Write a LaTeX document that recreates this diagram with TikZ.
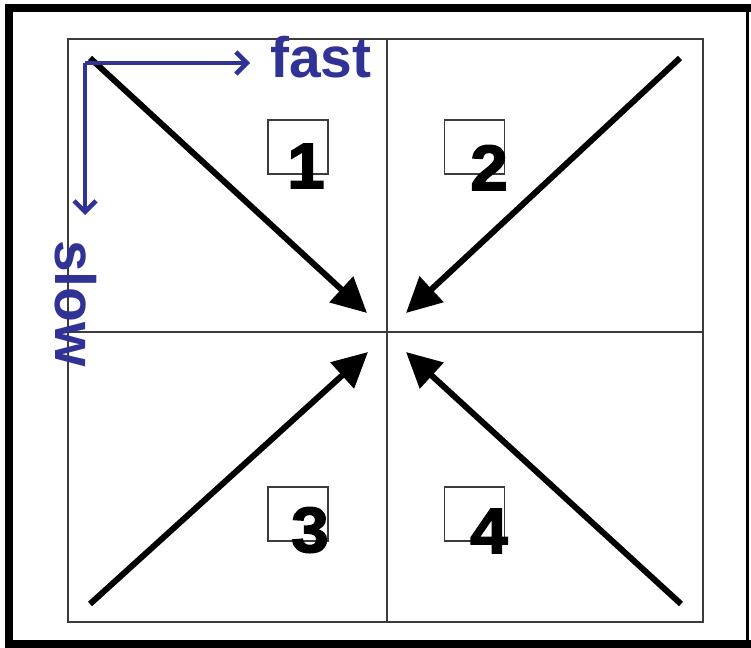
\documentclass[tikz,border=0pt]{standalone}
\usepackage{fontspec}
\setmainfont{Liberation Sans}
\newfontfamily\heavyfont{Liberation Sans}[BoldFeatures={FakeBold=2.5}]
\usetikzlibrary{arrows.meta}
\definecolor{bluelab}{RGB}{48,50,150}
\definecolor{gridgray}{RGB}{60,60,60}
\tikzset{
  frameline/.style={line width=8pt, black},
  gridline/.style={line width=1.5pt, gridgray},
  bigarrow/.style={line width=6pt, -{Triangle[length=35pt,width=34pt]}},
  bluearrow/.style={line width=4.5pt, bluelab, -{Straight Barb[length=11pt,width=22pt,line width=4.5pt]}},
  numbox/.style={draw=gridgray, line width=1.5pt, minimum width=60pt, minimum height=54pt, inner sep=0pt},
  digit/.style={font=\fontsize{64}{64}\heavyfont\bfseries, inner sep=0pt, anchor=base, xscale=1.05},
  bluelabel/.style={font=\fontsize{57}{57}\selectfont\bfseries, text=bluelab, inner sep=0pt}
}
\begin{document}
\begin{tikzpicture}[x=1pt,y=-1pt]
\useasboundingbox (0,0) rectangle (751,647);
% outer frame
\draw[frameline] (9,4) -- (9,647);
\draw[frameline] (5,8) -- (751,8);
\draw[frameline] (5,644) -- (751,644);
\draw[line width=2.5pt] (747.5,8) -- (747.5,644);
% grid
\draw[gridline] (68,39) rectangle (703,622);
\draw[gridline] (387,39) -- (387,622);
\draw[gridline] (68,332) -- (703,332);
% number boxes
\node[numbox] (b1) at (298,147) {};
\node[numbox] (b2) at (474.5,147) {};
\node[numbox] (b3) at (298,514) {};
\node[numbox] (b4) at (474.5,514) {};
\node[digit] (d1) at (306,188) {1};
\node[digit] (d2) at (489,190) {2};
\node[digit] (d3) at (310,552) {3};
\node[digit] (d4) at (489,553) {4};
% arrows
\coordinate (s1) at (90,58);
\coordinate (t1) at (367,313);
\coordinate (s2) at (680,58);
\coordinate (t2) at (406,313);
\coordinate (s3) at (90,604);
\coordinate (t3) at (368,352);
\coordinate (s4) at (681,604);
\coordinate (t4) at (406,352);
\draw[bigarrow] (s1) -- (t1);
\draw[bigarrow] (s2) -- (t2);
\draw[bigarrow] (s3) -- (t3);
\draw[bigarrow] (s4) -- (t4);
% blue axes
\coordinate (o) at (85,63);
\coordinate (fx) at (250,63);
\coordinate (sy) at (85,215);
\draw[bluearrow] (o) -- (fx);
\draw[bluearrow] (o) -- (sy);
\node[bluelabel, anchor=base west] (fast) at (270,78) {fast};
\node[bluelabel, anchor=base west, rotate=-90] (slow) at (55,240) {slow};
\end{tikzpicture}
\end{document}
